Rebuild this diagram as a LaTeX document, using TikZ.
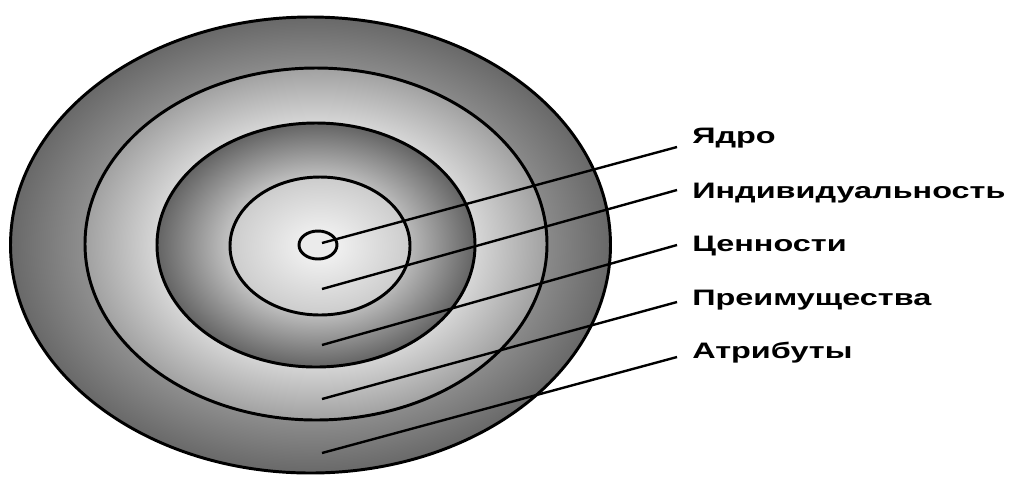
\documentclass[tikz,border=0pt]{standalone}
\usepackage{fontspec}
\setmainfont{Liberation Sans}
\newfontfamily\labelfont[FakeStretch=1.45]{Liberation Sans}
\usepackage{tikz}
\usetikzlibrary{positioning}

\definecolor{gA1}{gray}{0.55}
\definecolor{gA2}{gray}{0.41}
\definecolor{gB1}{gray}{0.84}
\definecolor{gB2}{gray}{0.63}
\definecolor{gC1}{gray}{0.74}
\definecolor{gC2}{gray}{0.39}
\definecolor{gD1}{gray}{0.97}
\definecolor{gD2}{gray}{0.80}
\definecolor{coregray}{gray}{0.92}

% path edge sits at 25bp of the shading
\pgfdeclareradialshading{bandA}{\pgfpoint{0bp}{0bp}}{color(0bp)=(gA1); color(19.25bp)=(gA1); color(25bp)=(gA2); color(50bp)=(gA2)}
\pgfdeclareradialshading{bandB}{\pgfpoint{0bp}{0bp}}{color(0bp)=(gB1); color(17.25bp)=(gB1); color(25bp)=(gB2); color(50bp)=(gB2)}
\pgfdeclareradialshading{bandC}{\pgfpoint{0bp}{0bp}}{color(0bp)=(gC1); color(14.25bp)=(gC1); color(25bp)=(gC2); color(50bp)=(gC2)}
\pgfdeclareradialshading{bandD}{\pgfpoint{0bp}{0bp}}{color(0bp)=(gD1); color(25bp)=(gD2); color(50bp)=(gD2)}

\tikzset{
  ring/.style={draw=black, line width=2.1pt},
  leader/.style={black, line width=1.7pt},
  layerlabel/.style={font=\labelfont\bfseries\fontsize{15.9pt}{18pt}\selectfont,
    anchor=base west, inner xsep=3.75mm, inner ysep=0pt}
}

\begin{document}
\begin{tikzpicture}[x=0.25mm,y=-0.25mm]
\useasboundingbox (0,0) rectangle (1016,476);
% shaded bands, outside in
\shade[shading=bandA] (310.5,245) ellipse [x radius=300, y radius=228];
\shade[shading=bandB] (316,244) ellipse [x radius=231, y radius=176];
\shade[shading=bandC] (316,245) ellipse [x radius=159, y radius=122];
\shade[shading=bandD] (320,246) ellipse [x radius=90, y radius=69];
% ring outlines
\foreach \cx/\cy/\rx/\ry in {310.5/245/300/228, 316/244/231/176, 316/245/159/122, 320/246/90/69}
  \draw[ring] (\cx,\cy) ellipse [x radius=\rx, y radius=\ry];
% core
\draw[ring, fill=coregray] (318,245) ellipse [x radius=19, y radius=14];
% labels and leader lines
\foreach \i/\txt/\by/\dy/\iy in {Core/Ядро/143/-1/243, Ind/Индивидуальность/198/2/289,
    Val/Ценности/251/1.5/345, Adv/Преимущества/305/0.75/399, Att/Атрибуты/358/0.25/453} {
  \coordinate (in\i) at (322,\iy);
  \node[layerlabel] (lb\i) at (677,\by) {\txt};
  \draw[leader] (in\i) -- ([yshift=\dy mm]lb\i.base west);
}
\end{tikzpicture}
\end{document}
